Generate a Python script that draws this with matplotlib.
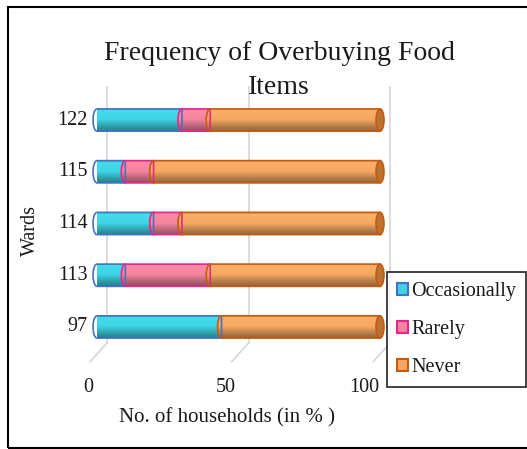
import numpy as np
import matplotlib
matplotlib.use('Agg')
import matplotlib.pyplot as plt
from matplotlib.patches import Ellipse, Rectangle, Patch, PathPatch
from matplotlib.path import Path
from matplotlib.colors import to_rgb
import matplotlib.transforms as mtransforms

wards = ['97', '113', '114', '115', '122']
occasionally = [44, 10, 20, 10, 30]
rarely = [0, 30, 10, 10, 10]
never = [56, 60, 70, 80, 60]
x_ticks = [0, 50, 100]

series = [('Occasionally', occasionally, '#3fd4e4', '#4472c4'),
          ('Rarely', rarely, '#f4849f', '#e6268a'),
          ('Never', never, '#f5a862', '#c55a11')]

plt.rcParams['font.family'] = ['Liberation Serif', 'DejaVu Serif']
TXT = '#1a1a1a'

fig = plt.figure(figsize=(5.27, 4.49), dpi=100)
ax = fig.add_axes([97 / 527, 1 - 358 / 449, 283 / 527, 269 / 449])
ax.axis('off')

BAR_H = 0.43
CAP_W = 2.8  # ellipse width in data units


def px(dx, dy):
    return mtransforms.ScaledTranslation(dx / 100, dy / 100, fig.dpi_scale_trans)


# back wall gridlines + slanted floor lines (3-D look)
xform = ax.get_xaxis_transform()
for t in x_ticks:
    ax.plot([t, t], [0.056, 1.007], color='#d9d9d9', lw=1.3,
            transform=xform + px(10, 0), clip_on=False, zorder=0)
    ax.annotate('', xy=(t, 0.056), xycoords=xform + px(-7, -19),
                xytext=(t, 0.056), textcoords=xform + px(10, 0),
                arrowprops=dict(arrowstyle='-', color='#d9d9d9', lw=1.3,
                                shrinkA=0, shrinkB=0))
    ax.text(t, 0, str(t), transform=xform + px(-9 - 0.07 * t, -29), ha='center',
            va='center', fontsize=14.5, color=TXT)

shade_t = np.linspace(0, 1, 64)
shade_f = np.interp(shade_t, [0, 0.12, 0.5, 0.75, 1.0], [0.92, 1.04, 1.0, 0.78, 0.6])


def cylinder(yc, left, width, color, edge):
    if width <= 0:
        return
    right = left + width
    h2 = BAR_H / 2
    th = np.linspace(np.pi / 2, 3 * np.pi / 2, 40)
    xs = list(left + CAP_W / 2 * np.cos(th)) + [right, right, left]
    ys = list(yc + h2 * np.sin(th)) + [yc - h2, yc + h2, yc + h2]
    path = Path(np.column_stack([xs, ys]))
    rgb = np.array(to_rgb(color))
    img = np.clip(shade_f[:, None] * rgb[None, :], 0, 1)[:, None, :]
    im = ax.imshow(img, extent=(left - CAP_W / 2, right, yc - h2, yc + h2),
                   aspect='auto', origin='upper', zorder=2, interpolation='bilinear')
    pp = PathPatch(path, facecolor='none', edgecolor=edge, lw=1.2, zorder=3)
    ax.add_patch(pp)
    pp.set_clip_on(False)
    im.set_clip_box(None)
    im.set_clip_path(pp)


for i, w in enumerate(wards):
    left = 0
    for name, vals, col, edge in series:
        cylinder(i, left, vals[i], col, edge)
        left += vals[i]
    # end face of the cylinder
    cap = Ellipse((left, i), CAP_W, BAR_H, facecolor='#b87333',
                  edgecolor='#c55a11', lw=1.2, zorder=4)
    ax.add_patch(cap)
    cap.set_clip_on(False)
    ax.text(0, i, w, transform=ax.get_yaxis_transform() + px(-9, 0),
            ha='right', va='center', fontsize=14.5, color=TXT)

ax.set_xlim(0, 100)
ax.set_ylim(-0.6, len(wards) - 0.4)

fig.text(279 / 527, 1 - 53 / 449, 'Frequency of Overbuying Food', ha='center',
         va='center', fontsize=20, color=TXT)
fig.text(279 / 527, 1 - 87 / 449, 'Items', ha='center',
         va='center', fontsize=20, color=TXT)
fig.text(30 / 527, 1 - 230 / 449, 'Wards', rotation=90, ha='center', va='center',
         fontsize=14.5, color=TXT)
fig.text(227 / 527, 1 - 418 / 449, 'No. of households (in % )', ha='center',
         va='center', fontsize=15, color=TXT)

handles = [Patch(facecolor=c, edgecolor=e, lw=1.5, label=n) for n, _, c, e in series]
leg = fig.legend(handles=handles, loc='upper left', bbox_to_anchor=(387 / 527, 1 - 272 / 449),
                 bbox_transform=fig.transFigure, fontsize=14.5, frameon=True, fancybox=False,
                 edgecolor='black', handlelength=0.55, handleheight=0.55, handletextpad=0.15,
                 labelspacing=0.95, borderpad=0.5, borderaxespad=0)
leg.get_frame().set_linewidth(1.3)
for txt in leg.get_texts():
    txt.set_color(TXT)

fig.patches.append(Rectangle((8 / 527, 1.5 / 449), 530 / 527, 441 / 449, transform=fig.transFigure,
                             fill=False, edgecolor='black', lw=1.5))

fig.savefig('out.png', dpi=100)
